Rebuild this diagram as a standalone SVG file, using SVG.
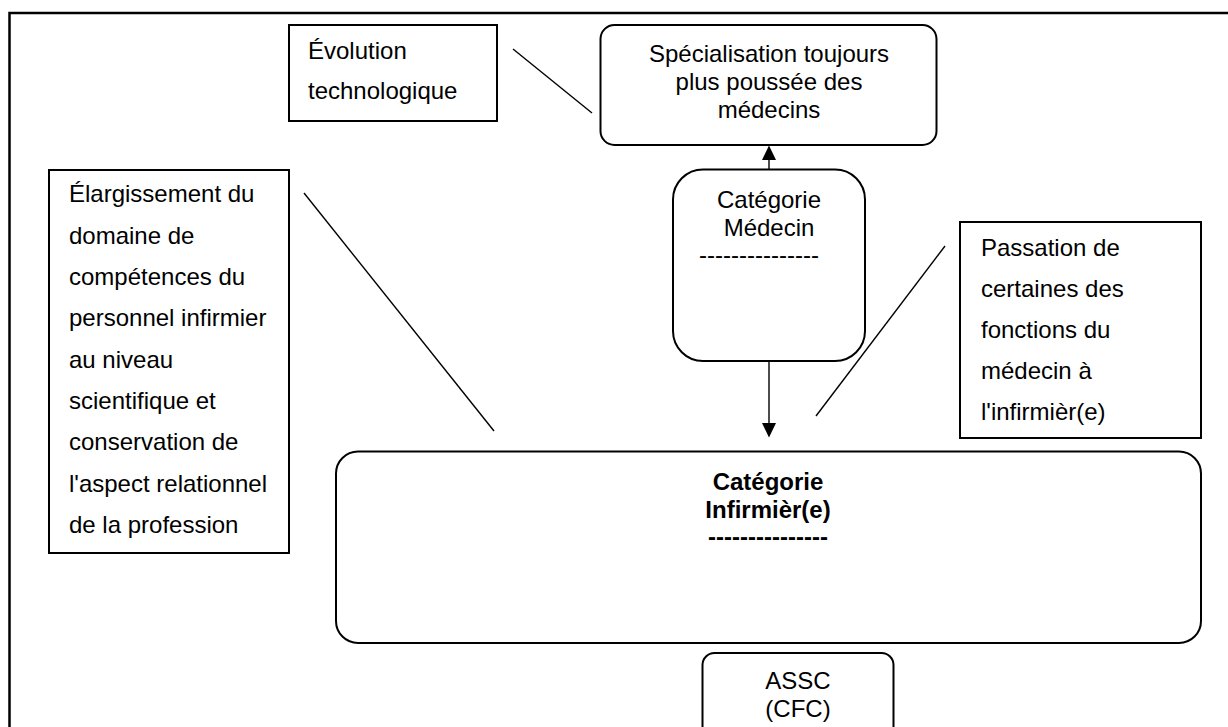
<svg xmlns="http://www.w3.org/2000/svg" width="1228" height="727" viewBox="0 0 1228 727">
<style>
  .box { fill: #ffffff; stroke: #000000; stroke-width: 2; }
  .frame { fill: none; stroke: #000000; stroke-width: 2.5; }
  .conn { stroke: #000000; stroke-width: 1.4; fill: none; }
  .head { fill: #000000; stroke: none; }
  text { font-family: "Liberation Sans", Arial, sans-serif; font-size: 24px; fill: #000000; }
  .c { text-anchor: middle; }
  .b { font-weight: bold; }
</style>
<rect width="1228" height="727" fill="#ffffff"/>
<rect class="frame" x="9.5" y="13" width="1240" height="740"/>

<g id="connectors">
  <line class="conn" x1="513" y1="49" x2="592" y2="113"/>
  <line class="conn" x1="304" y1="193" x2="494" y2="431"/>
  <line class="conn" x1="945" y1="246" x2="816" y2="416"/>
  <line class="conn" x1="769" y1="169.5" x2="769" y2="159"/>
  <polygon class="head" points="769,145.5 762,160 776,160"/>
  <line class="conn" x1="769" y1="361" x2="769" y2="424"/>
  <polygon class="head" points="769,437.5 762,423 776,423"/>
</g>

<g id="evolution">
  <rect class="box" x="289" y="25" width="208" height="96"/>
  <text x="308" y="59">Évolution</text>
  <text x="308" y="99">technologique</text>
</g>

<g id="specialisation">
  <rect class="box" x="600.5" y="25" width="336" height="120" rx="14"/>
  <text class="c" x="769" y="62">Spécialisation toujours</text>
  <text class="c" x="769" y="90">plus poussée des</text>
  <text class="c" x="769" y="118">médecins</text>
</g>

<g id="elargissement">
  <rect class="box" x="49" y="170" width="240" height="383"/>
  <text x="69" y="202">Élargissement du</text>
  <text x="69" y="243.5">domaine de</text>
  <text x="69" y="285">compétences du</text>
  <text x="69" y="326">personnel infirmier</text>
  <text x="69" y="367.5">au niveau</text>
  <text x="69" y="409">scientifique et</text>
  <text x="69" y="450">conservation de</text>
  <text x="69" y="491.5">l'aspect relationnel</text>
  <text x="69" y="533">de la profession</text>
</g>

<g id="medecin">
  <rect class="box" x="673" y="169.5" width="192" height="191.5" rx="30"/>
  <text class="c" x="769" y="208">Catégorie</text>
  <text class="c" x="769" y="236">Médecin</text>
  <text class="c" x="759" y="263">---------------</text>
</g>

<g id="passation">
  <rect class="box" x="960" y="222" width="241" height="216"/>
  <text x="981" y="256">Passation de</text>
  <text x="981" y="297">certaines des</text>
  <text x="981" y="338">fonctions du</text>
  <text x="981" y="379">médecin à</text>
  <text x="981" y="420">l'infirmièr(e)</text>
</g>

<g id="infirmier">
  <rect class="box" x="336" y="451.5" width="865" height="191.5" rx="22"/>
  <text class="c b" x="768" y="490">Catégorie</text>
  <text class="c b" x="768" y="518">Infirmièr(e)</text>
  <text class="c b" x="768" y="545">---------------</text>
</g>

<g id="assc">
  <rect class="box" x="702.5" y="653" width="191" height="100" rx="12"/>
  <text class="c" x="798" y="689">ASSC</text>
  <text class="c" x="798" y="717">(CFC)</text>
</g>
</svg>
